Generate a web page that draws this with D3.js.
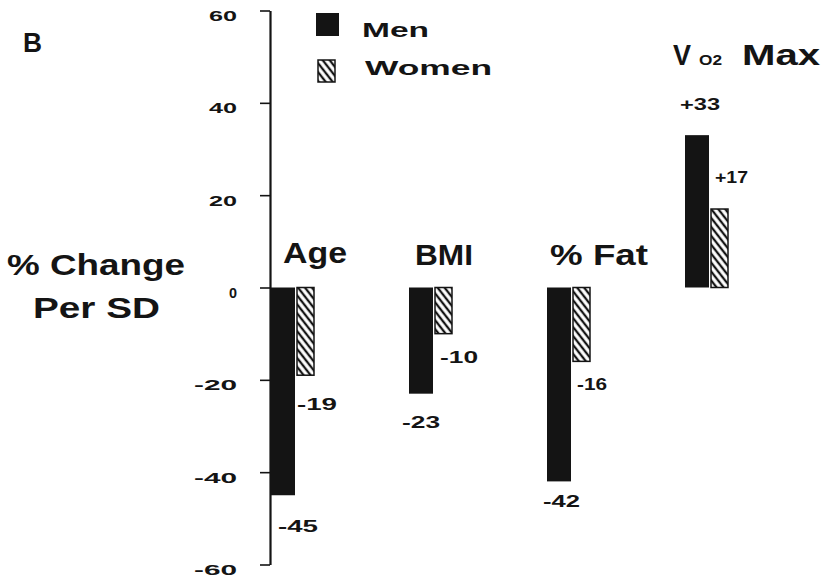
<!DOCTYPE html>
<html>
<head>
<meta charset="utf-8">
<script src="https://cdn.jsdelivr.net/npm/d3@7"></script>
<style>
  body { margin: 0; background: #fff; }
  text { font-family: "Liberation Sans", Arial, sans-serif; font-weight: bold; fill: #141414; }
</style>
</head>
<body>
<svg id="chart" width="827" height="581"></svg>
<script>
// ---- data ----
const categories = ["Age", "BMI", "% Fat", "VO2 Max"];
const seriesNames = ["Men", "Women"];
const menValues = [-45, -23, -42, 33];
const womenValues = [-19, -10, -16, 17];
const yTicks = [60, 40, 20, 0, -20, -40, -60];

// ---- layout ----
const W = 827, H = 581;
const axisX = 270;
const menWidth = 24, womenOffset = 26, womenWidth = 17;
// value-label placement relative to the bar end: [dx, dy, textLength]
const menLabelPos = [[7, 37, 40], [-7, 34, 38], [-4, 26, 37], [-5, -25, 40]];
const womenLabelPos = [[0, 35, 40], [5, 29, 38], [4, 29, 30], [4, -26, 33]];

const svg = d3.select("#chart");
const defs = svg.append("defs");

const hatch = defs.append("pattern")
  .attr("id", "hatch")
  .attr("patternUnits", "userSpaceOnUse")
  .attr("width", 5.5).attr("height", 5.5)
  .attr("patternTransform", "rotate(-38)");
hatch.append("rect").attr("width", 5.5).attr("height", 5.5).attr("fill", "#fff");
hatch.append("line").attr("x1", 2.75).attr("y1", 0).attr("x2", 2.75).attr("y2", 5.5)
  .attr("stroke", "#141414").attr("stroke-width", 2.3);

const y = d3.scaleLinear().domain([-60, 60]).range([564.5, 10.5]);
const x = d3.scaleBand().domain(categories).range([271, 271 + 4 * 138]).padding(0);

function label(g, s, px, py, size, len) {
  const t = g.append("text").attr("x", px).attr("y", py).attr("font-size", size).text(s);
  if (len) t.attr("textLength", len).attr("lengthAdjust", "spacingAndGlyphs");
  return t;
}
const fmt = v => (v > 0 ? "+" : "-") + Math.abs(v);

// ---- axis ----
const axis = d3.axisLeft(y)
  .tickValues(yTicks)
  .tickSize(10)
  .tickSizeOuter(0)
  .tickFormat(d => (d < 0 ? "-" + Math.abs(d) : String(d)));
const gAxis = svg.append("g").attr("transform", `translate(${axisX},0)`).call(axis);
gAxis.select(".domain").attr("stroke", "#141414").attr("stroke-width", 2.2);
gAxis.selectAll(".tick line").attr("stroke", "#141414").attr("stroke-width", 1.6);
const tickLen = { 1: 8, 2: 28, 3: 43 };
gAxis.selectAll(".tick text")
  .attr("text-anchor", "start")
  .attr("dy", null)
  .attr("y", 10)
  .attr("font-size", 15)
  .attr("font-family", null)
  .attr("fill", "#141414")
  .each(function (d) {
    const s = d3.select(this).text();
    const len = tickLen[s.length];
    d3.select(this).attr("x", -(axisX - 237) - len)
      .attr("textLength", len).attr("lengthAdjust", "spacingAndGlyphs");
  });

// ---- bars ----
const gBars = svg.append("g");
gBars.selectAll("rect.men").data(menValues).join("rect")
  .attr("class", "men")
  .attr("x", (d, i) => x(categories[i]))
  .attr("y", d => Math.min(y(d), y(0)))
  .attr("width", menWidth)
  .attr("height", d => Math.abs(y(d) - y(0)))
  .attr("fill", "#141414");

gBars.selectAll("rect.women").data(womenValues).join("rect")
  .attr("class", "women")
  .attr("x", (d, i) => x(categories[i]) + womenOffset)
  .attr("y", d => Math.min(y(d), y(0)))
  .attr("width", womenWidth)
  .attr("height", d => Math.abs(y(d) - y(0)))
  .attr("fill", "url(#hatch)")
  .attr("stroke", "#141414")
  .attr("stroke-width", 1.5);

// ---- value labels ----
const gVals = svg.append("g");
menValues.forEach((v, i) => {
  const [dx, dy, len] = menLabelPos[i];
  label(gVals, fmt(v), x(categories[i]) + dx, y(v) + dy, 16, len);
});
womenValues.forEach((v, i) => {
  const [dx, dy, len] = womenLabelPos[i];
  label(gVals, fmt(v), x(categories[i]) + womenOffset + dx, y(v) + dy, 16, len);
});

// ---- category labels ----
const gCat = svg.append("g");
label(gCat, categories[0], x(categories[0]) + 12, 263, 29, 64);
label(gCat, categories[1], x(categories[1]) + 6, 265, 29, 58);
label(gCat, categories[2], x(categories[2]) + 3, 265, 29, 98);
// VO2 Max: large V, small "O2", then "Max"
const vx = x(categories[3]);
label(gCat, "V", vx - 12, 65, 29, 18);
label(gCat, "O2", vx + 14, 65, 15, 23);
label(gCat, "Max", vx + 57, 65, 29, 78);

// ---- legend ----
const gLeg = svg.append("g");
gLeg.append("rect").attr("x", 316).attr("y", 13).attr("width", 23).attr("height", 23).attr("fill", "#141414");
gLeg.append("rect").attr("x", 318).attr("y", 60).attr("width", 17).attr("height", 22)
  .attr("fill", "url(#hatch)").attr("stroke", "#141414").attr("stroke-width", 1.5);
label(gLeg, seriesNames[0], 362, 37, 21, 67);
label(gLeg, seriesNames[1], 365, 75, 21, 127);

// ---- axis title and panel letter ----
label(svg, "% Change", 7, 275, 29, 178);
label(svg, "Per SD", 33, 318, 29, 127);
label(svg, "B", 23, 52, 27, 19);
</script>
</body>
</html>
